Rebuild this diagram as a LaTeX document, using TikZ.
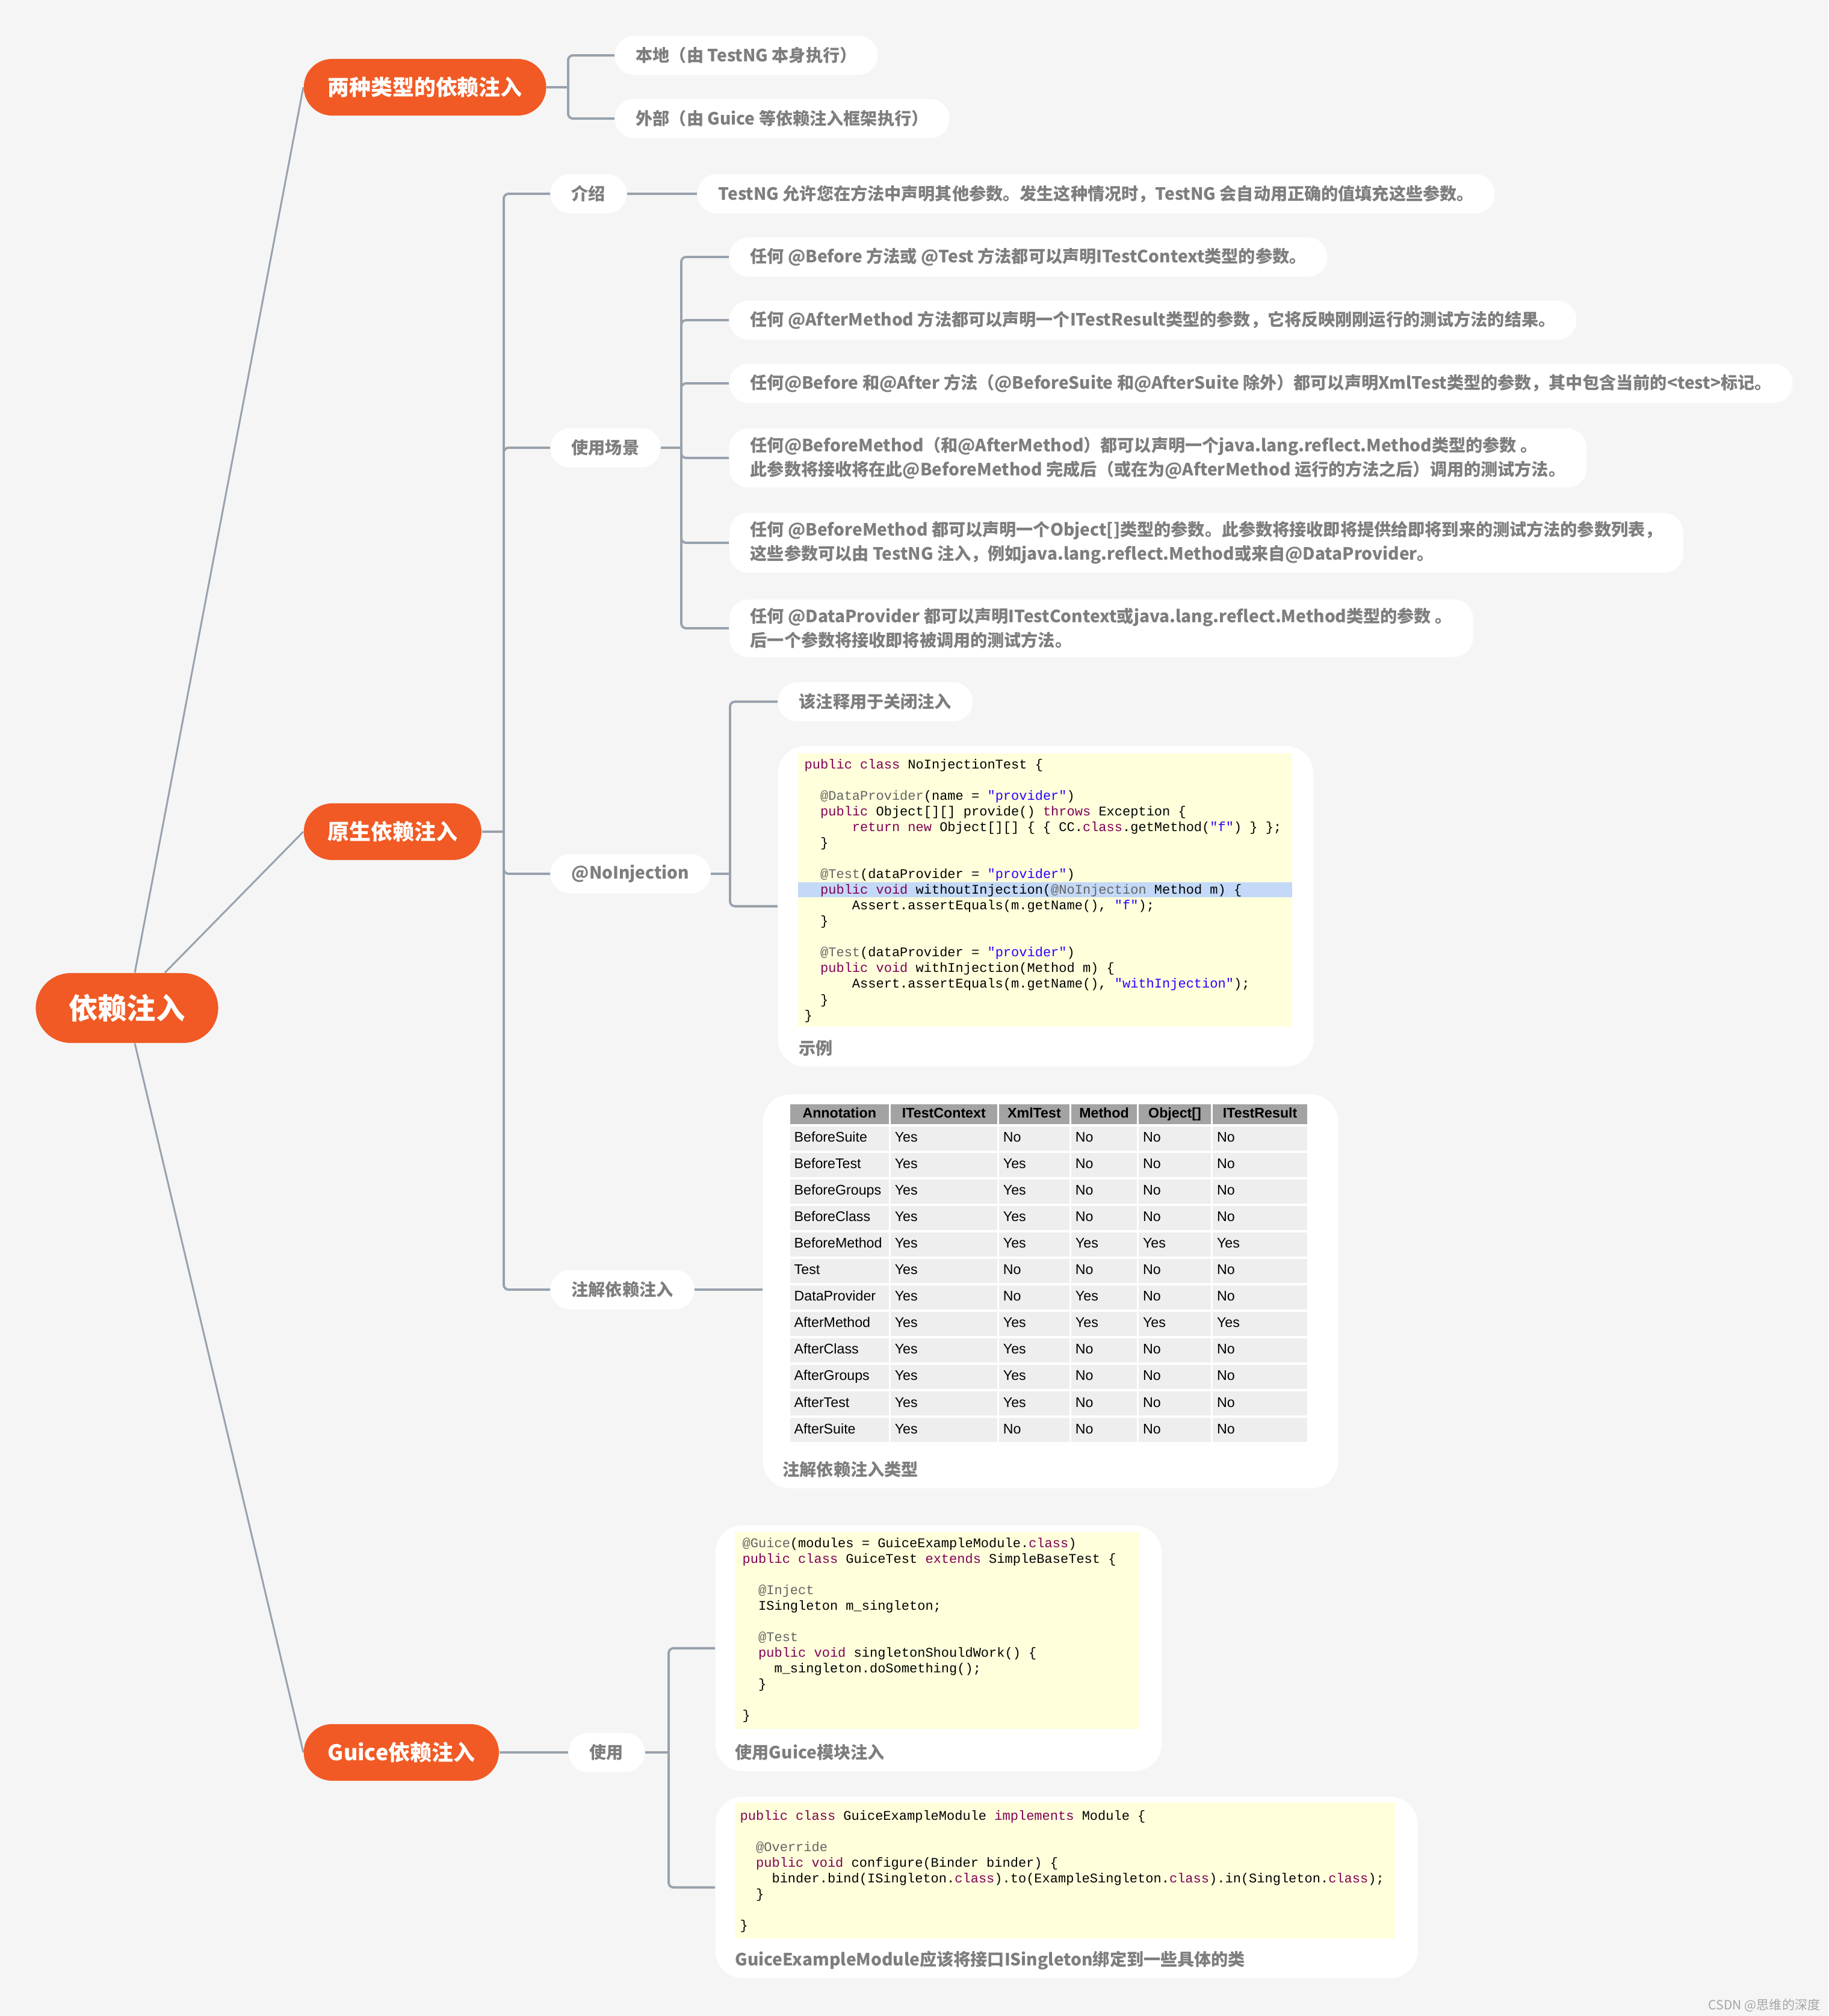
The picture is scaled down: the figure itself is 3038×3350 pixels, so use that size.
\documentclass[tikz,border=0pt]{standalone}
\usepackage{fontspec}
\usepackage{xcolor}
\usepackage{tikz}
\usetikzlibrary{matrix}

\setmainfont{Noto Sans CJK SC}
\newfontfamily\cjk{Noto Sans CJK SC}
\newfontfamily\tabfont{Liberation Sans}
\newfontfamily\codefont{Liberation Mono}

\definecolor{bgcol}{HTML}{F5F5F5}
\definecolor{mmorange}{HTML}{F15A24}
\definecolor{linegray}{HTML}{98A2AC}
\definecolor{txtgray}{HTML}{7E7E7E}
\definecolor{codebg}{HTML}{FFFFDC}
\definecolor{hlblue}{HTML}{C4D9F7}
\definecolor{kwcol}{HTML}{7F0055}
\definecolor{ancol}{HTML}{646464}
\definecolor{strcol}{HTML}{2A00FF}
\definecolor{headgray}{HTML}{A3A3A3}
\definecolor{cellgray}{HTML}{EEEEEE}
\definecolor{wmgray}{HTML}{A6A6A6}

\newlength\cw
\setlength\cw{0.132cm}
\newcommand\codeind[1]{\hspace*{#1\cw}}
\newcommand\kwd[1]{\textcolor{kwcol}{#1}}
\newcommand\ann[1]{\textcolor{ancol}{#1}}
\newcommand\jstr[1]{\textcolor{strcol}{#1}}

\begin{document}
\begin{tikzpicture}[x=0.01cm, y=-0.01cm,
    rootnode/.style={fill=mmorange, text=white, font=\cjk\bfseries\fontsize{13.7}{16}\selectfont,
        rounded corners=0.58cm, minimum width=3.03cm, minimum height=1.16cm, inner sep=0pt},
    topic/.style={fill=mmorange, text=white, font=\cjk\bfseries\fontsize{10.2}{12}\selectfont,
        rounded corners=0.47cm, minimum height=0.94cm, inner xsep=0.4cm, anchor=west},
    leaf/.style={fill=white, text=txtgray, font=\cjk\bfseries\fontsize{8}{11.4}\selectfont,
        rounded corners=0.32cm, minimum height=0.65cm, inner xsep=0.35cm, inner ysep=0.14cm,
        align=left, anchor=west},
    imgbox/.style={fill=white, rounded corners=0.45cm, anchor=north west, inner sep=0pt},
    capline/.style={text=txtgray, font=\cjk\bfseries\fontsize{8}{10}\selectfont, anchor=west, inner sep=0pt},
    codetext/.style={font=\codefont\fontsize{6.26}{7.4}\selectfont, align=left, anchor=north west, inner sep=0pt},
    link/.style={draw=linegray, line width=1.1pt, rounded corners=0.08cm},
    rootlink/.style={draw=linegray, line width=0.85pt}]

    % sfondo
    \path[use as bounding box, fill=bgcol] (0,0) rectangle (3038,3350);

    % nodo centrale
    \node[rootnode] (root) at (211,1675) {依赖注入};

    % rami principali
    \node[topic] (kinds) at (504,145) {两种类型的依赖注入};
    \node[topic] (native) at (504,1382) {原生依赖注入};
    \node[topic] (guice) at (504,2912) {Guice依赖注入};

    % due tipi
    \node[leaf] (local) at (1021,92) {本地（由 TestNG 本身执行）};
    \node[leaf] (extern) at (1021,197) {外部（由 Guice 等依赖注入框架执行）};

    % iniezione nativa
    \node[leaf] (intro) at (914,322) {介绍};
    \node[leaf] (introtxt) at (1158,322) {TestNG 允许您在方法中声明其他参数。发生这种情况时，TestNG 会自动用正确的值填充这些参数。};
    \node[leaf] (usage) at (914,744) {使用场景};
    \node[leaf] (useA) at (1211,427) {任何 @Before 方法或 @Test 方法都可以声明ITestContext类型的参数。};
    \node[leaf] (useB) at (1211,532) {任何 @AfterMethod 方法都可以声明一个ITestResult类型的参数，它将反映刚刚运行的测试方法的结果。};
    \node[leaf] (useC) at (1211,637) {任何@Before 和@After 方法（@BeforeSuite 和@AfterSuite 除外）都可以声明XmlTest类型的参数，其中包含当前的<test>标记。};
    \node[leaf] (useD) at (1211,761) {任何@BeforeMethod（和@AfterMethod）都可以声明一个java.lang.reflect.Method类型的参数 。\\此参数将接收将在此@BeforeMethod 完成后（或在为@AfterMethod 运行的方法之后）调用的测试方法。};
    \node[leaf] (useE) at (1211,902) {任何 @BeforeMethod 都可以声明一个Object[]类型的参数。此参数将接收即将提供给即将到来的测试方法的参数列表，\\这些参数可以由 TestNG 注入，例如java.lang.reflect.Method或来自@DataProvider。};
    \node[leaf] (useF) at (1211,1044) {任何 @DataProvider 都可以声明ITestContext或java.lang.reflect.Method类型的参数 。\\后一个参数将接收即将被调用的测试方法。};

    % @NoInjection
    \node[leaf] (noinj) at (914,1452) {@NoInjection};
    \node[leaf] (noinjtxt) at (1292,1166) {该注释用于关闭注入};
    \node[imgbox, minimum width=8.89cm, minimum height=5.32cm] (demo) at (1292,1239) {};
    \fill[codebg] (1326,1252) rectangle (2147,1706);
    \fill[hlblue] (1326,1466) rectangle (2147,1491);
    \node[codetext] (democode) at (1336,1261) {%
\kwd{public class} NoInjectionTest \{\\[0.26cm]
\codeind{2}\ann{@DataProvider}(name = \jstr{"provider"})\\
\codeind{2}\kwd{public} Object[][] provide() \kwd{throws} Exception \{\\
\codeind{6}\kwd{return new} Object[][] \{ \{ CC.\kwd{class}.getMethod(\jstr{"f"}) \} \};\\
\codeind{2}\}\\[0.26cm]
\codeind{2}\ann{@Test}(dataProvider = \jstr{"provider"})\\
\codeind{2}\kwd{public void} withoutInjection(\ann{@NoInjection} Method m) \{\\
\codeind{6}Assert.assertEquals(m.getName(), \jstr{"f"});\\
\codeind{2}\}\\[0.26cm]
\codeind{2}\ann{@Test}(dataProvider = \jstr{"provider"})\\
\codeind{2}\kwd{public void} withInjection(Method m) \{\\
\codeind{6}Assert.assertEquals(m.getName(), \jstr{"withInjection"});\\
\codeind{2}\}\\
\}};
    \node[capline] (democap) at (1327,1742) {示例};

    % tabella delle annotazioni
    \node[leaf] (annot) at (914,2143) {注解依赖注入};
    \node[imgbox, minimum width=9.55cm, minimum height=6.54cm] (tabbox) at (1267,1818) {};
    \matrix (annotab) [matrix of nodes, anchor=north west, inner sep=0pt,
        row sep=0.04cm, column sep=0.03cm,
        nodes={fill=cellgray, inner xsep=0.07cm, inner ysep=0pt, minimum height=0.40cm,
            text height=0.17cm, text depth=0.05cm, align=left,
            font=\tabfont\fontsize{6.6}{8}\selectfont},
        column 1/.style={nodes={text width=1.50cm}},
        column 2/.style={nodes={text width=1.63cm}},
        column 3/.style={nodes={text width=1.03cm}},
        column 4/.style={nodes={text width=0.95cm}},
        column 5/.style={nodes={text width=1.06cm}},
        column 6/.style={nodes={text width=1.43cm}},
        row 1/.style={nodes={fill=headgray, minimum height=0.33cm, align=center,
            font=\tabfont\bfseries\fontsize{6.6}{8}\selectfont}}]
        at (1312,1834) {
        Annotation & ITestContext & XmlTest & Method & Object[] & ITestResult \\
        BeforeSuite & Yes & No & No & No & No \\
        BeforeTest & Yes & Yes & No & No & No \\
        BeforeGroups & Yes & Yes & No & No & No \\
        BeforeClass & Yes & Yes & No & No & No \\
        BeforeMethod & Yes & Yes & Yes & Yes & Yes \\
        Test & Yes & No & No & No & No \\
        DataProvider & Yes & No & Yes & No & No \\
        AfterMethod & Yes & Yes & Yes & Yes & Yes \\
        AfterClass & Yes & Yes & No & No & No \\
        AfterGroups & Yes & Yes & No & No & No \\
        AfterTest & Yes & Yes & No & No & No \\
        AfterSuite & Yes & No & No & No & No \\
    };
    \node[capline] (tabcap) at (1300,2442) {注解依赖注入类型};

    % Guice
    \node[leaf] (use) at (944,2912) {使用};
    \node[imgbox, minimum width=7.41cm, minimum height=4.08cm] (modbox) at (1188,2534) {};
    \fill[codebg] (1221,2546) rectangle (1894,2873);
    \node[codetext] (modcode) at (1233,2555) {%
\ann{@Guice}(modules = GuiceExampleModule.\kwd{class})\\
\kwd{public class} GuiceTest \kwd{extends} SimpleBaseTest \{\\[0.26cm]
\codeind{2}\ann{@Inject}\\
\codeind{2}ISingleton m\_singleton;\\[0.26cm]
\codeind{2}\ann{@Test}\\
\codeind{2}\kwd{public void} singletonShouldWork() \{\\
\codeind{4}m\_singleton.doSomething();\\
\codeind{2}\}\\[0.26cm]
\}};
    \node[capline] (modcap) at (1221,2912) {使用Guice模块注入};

    \node[imgbox, minimum width=11.66cm, minimum height=3.01cm] (bindbox) at (1188,2985) {};
    \fill[codebg] (1221,2995) rectangle (2318,3221);
    \node[codetext] (bindcode) at (1229,3008) {%
\kwd{public class} GuiceExampleModule \kwd{implements} Module \{\\[0.26cm]
\codeind{2}\ann{@Override}\\
\codeind{2}\kwd{public void} configure(Binder binder) \{\\
\codeind{4}binder.bind(ISingleton.\kwd{class}).to(ExampleSingleton.\kwd{class}).in(Singleton.\kwd{class});\\
\codeind{2}\}\\[0.26cm]
\}};
    \node[capline] (bindcap) at (1221,3258) {GuiceExampleModule应该将接口ISingleton绑定到一些具体的类};

    % firma
    \node[font=\cjk\fontsize{6}{7}\selectfont, text=wmgray, anchor=east, inner sep=0pt] (mark) at (3025,3332) {CSDN @思维的深度};

    % collegamenti dal centro
    \draw[rootlink] ([xshift=0.13cm]root.north) -- (kinds.west);
    \draw[rootlink] ([xshift=0.63cm]root.north) -- (native.west);
    \draw[rootlink] ([xshift=0.13cm]root.south) -- (guice.west);

    % punti di diramazione
    \coordinate (busA) at (944,145);
    \coordinate (busB) at (837,1382);
    \coordinate (busC) at (1132,744);
    \coordinate (busD) at (1213,1452);
    \coordinate (busE) at (1111,2912);

    % due tipi
    \draw[link] (kinds.east) -- (busA);
    \draw[link] (busA) |- (local.west);
    \draw[link] (busA) |- (extern.west);

    % nativa
    \draw[link] (native.east) -- (busB);
    \draw[link] (busB) |- (intro.west);
    \draw[link] (busB) |- (usage.west);
    \draw[link] (busB) |- (noinj.west);
    \draw[link] (busB) |- (annot.west);
    \draw[link] (intro.east) -- (introtxt.west);

    % scenari
    \draw[link] (usage.east) -- (busC);
    \draw[link] (busC) |- (useA.west);
    \draw[link] (busC) |- (useB.west);
    \draw[link] (busC) |- (useC.west);
    \draw[link] (busC) |- (useD.west);
    \draw[link] (busC) |- (useE.west);
    \draw[link] (busC) |- (useF.west);

    % @NoInjection
    \draw[link] (noinj.east) -- (busD);
    \draw[link] (busD) |- (noinjtxt.west);
    \draw[link] (busD) |- (demo.west);

    % tabella
    \draw[link] (annot.east) -- (annot.east -| tabbox.west);

    % Guice
    \draw[link] (guice.east) -- (use.west);
    \draw[link] (use.east) -- (busE);
    \draw[link] (busE) |- (modbox.west);
    \draw[link] (busE) |- (bindbox.west);
\end{tikzpicture}
\end{document}
